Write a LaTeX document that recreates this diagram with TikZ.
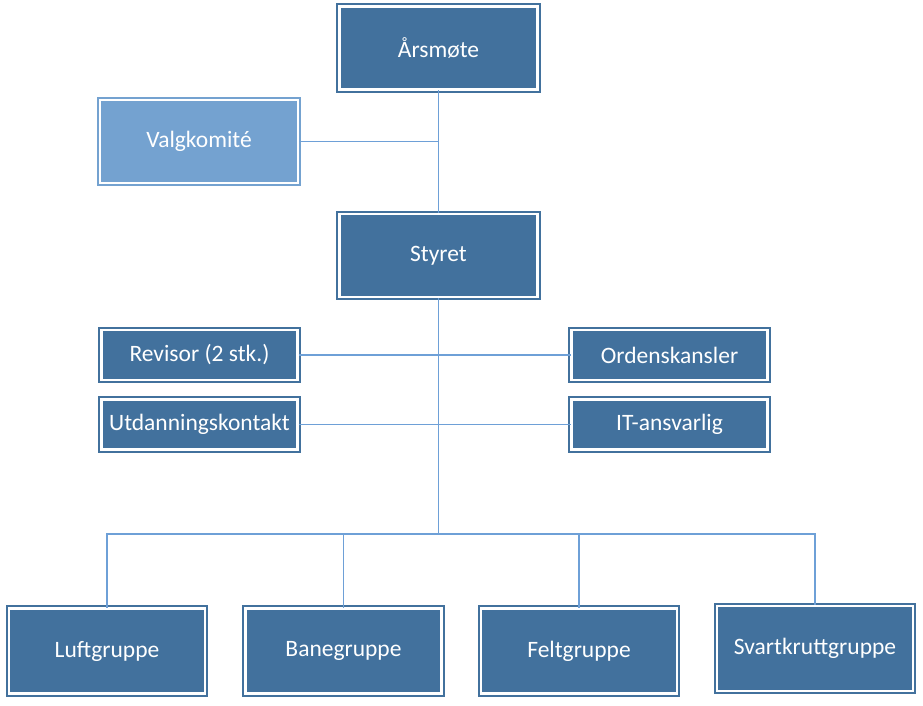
\documentclass[tikz,border=0pt]{standalone}
\usepackage{fontspec}
\setmainfont{Carlito}
\definecolor{boxblue}{RGB}{66,113,157}
\definecolor{lightblue}{RGB}{116,162,208}
\definecolor{linecol}{RGB}{110,160,215}
\tikzset{
  orgbox/.style={draw=boxblue, fill=boxblue, double=white, double distance=2.4pt, line width=2pt,
    text=white, font=\fontsize{23.5}{28}\selectfont, inner sep=0pt, align=center},
  bigbox/.style={orgbox, minimum width=198pt, minimum height=83pt},
  smallbox/.style={orgbox, minimum width=196pt, minimum height=50pt},
  botbox/.style={orgbox, minimum width=196pt, minimum height=85pt},
  conn/.style={draw=linecol, line width=1.5pt}
}
\begin{document}
\begin{tikzpicture}[x=1pt,y=-1pt]
\useasboundingbox (0,0) rectangle (923,706);
\node[bigbox] (aars) at (438.5,48) {Årsmøte};
\node[bigbox, draw=lightblue, fill=lightblue] (valg) at (199,141.5) {Valgkomité};
\node[bigbox] (styret) at (438.5,255.5) {Styret};
\node[smallbox] (rev) at (199.5,355) {Revisor (2 stk.)};
\node[smallbox] (utd) at (199.5,424.5) {Utdanningskontakt};
\node[smallbox] (ord) at (669.5,355) {Ordenskansler};
\node[smallbox] (it) at (669.5,424.5) {IT-ansvarlig};
\node[botbox] (luft) at (107,651) {Luftgruppe};
\node[botbox] (bane) at (343.5,651) {Banegruppe};
\node[botbox] (felt) at (579,651) {Feltgruppe};
\node[botbox] (svart) at (815,648.5) {Svartkruttgruppe};
\coordinate (bus) at (438.5,534);
\draw[conn] (aars.south) -- (styret.north);
\draw[conn] (valg.east) -- (valg.east -| aars.south);
\draw[conn] (styret.south) -- (bus);
\draw[conn] (rev.east) -- (ord.west);
\draw[conn] (utd.east) -- (it.west);
\draw[conn] (luft.north) -- (luft.north |- bus) -- (svart.north |- bus) -- (svart.north);
\draw[conn] (bane.north) -- (bane.north |- bus);
\draw[conn] (felt.north) -- (felt.north |- bus);
\end{tikzpicture}
\end{document}
